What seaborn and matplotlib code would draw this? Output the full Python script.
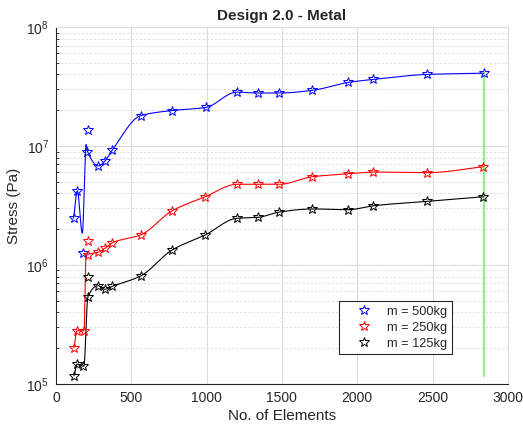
import numpy as np
import pandas as pd
import matplotlib
matplotlib.use("Agg")
import matplotlib.pyplot as plt
import seaborn as sns
from matplotlib.ticker import LogLocator, NullFormatter, MultipleLocator

# Measured stresses: marker points for each load case
blue_mx = [117, 142, 177, 208, 215, 281, 325, 374, 562, 772, 994, 1200, 1343, 1483, 1702, 1941, 2103, 2461, 2840]
blue_my = [2.47e6, 4.2e6, 1.25e6, 8.85e6, 13.6e6, 6.84e6, 7.48e6, 9.25e6, 18.0e6, 19.9e6, 21.1e6,
           28.4e6, 27.9e6, 27.9e6, 29.4e6, 34.3e6, 36.3e6, 40.0e6, 41.0e6]

red_mx = [120, 140, 186, 212, 216, 281, 325, 374, 562, 772, 991, 1200, 1343, 1483, 1702, 1941, 2107, 2466, 2838]
red_my = [2.02e5, 2.8e5, 2.8e5, 1.58e6, 1.21e6, 1.28e6, 1.38e6, 1.54e6, 1.79e6, 2.86e6, 3.75e6,
          4.77e6, 4.77e6, 4.77e6, 5.52e6, 5.85e6, 6.05e6, 5.97e6, 6.70e6]

black_mx = [120, 141, 181, 212, 216, 281, 325, 374, 562, 772, 991, 1200, 1343, 1483, 1702, 1941, 2107, 2466, 2838]
black_my = [1.17e5, 1.47e5, 1.41e5, 7.88e5, 5.4e5, 6.7e5, 6.25e5, 6.62e5, 8.09e5, 1.34e6, 1.79e6,
            2.47e6, 2.52e6, 2.79e6, 2.96e6, 2.92e6, 3.15e6, 3.43e6, 3.75e6]

# Knots of the fitted curves
blue_cx = [117, 142, 175, 200, 212, 281, 325, 374, 562, 772, 994, 1200, 1343, 1483, 1702, 1941, 2103, 2461, 2840]
blue_cy = [2.47e6, 4.2e6, 1.85e6, 10.3e6, 8.85e6, 6.8e6, 7.48e6, 9.25e6, 18.0e6, 19.9e6, 21.1e6,
           28.4e6, 27.9e6, 27.9e6, 29.4e6, 34.3e6, 36.3e6, 40.0e6, 41.0e6]

red_cx = [120, 140, 186, 200, 281, 325, 374, 562, 772, 991, 1200, 1343, 1483, 1702, 1941, 2107, 2466, 2838]
red_cy = [2.02e5, 2.8e5, 2.8e5, 1.2e6, 1.28e6, 1.38e6, 1.54e6, 1.79e6, 2.86e6, 3.75e6,
          4.77e6, 4.77e6, 4.77e6, 5.52e6, 5.85e6, 6.05e6, 5.97e6, 6.70e6]

black_cx = [120, 141, 185, 212, 281, 325, 374, 562, 772, 991, 1200, 1343, 1483, 1702, 1941, 2107, 2466, 2838]
black_cy = [1.17e5, 1.47e5, 1.41e5, 5.4e5, 6.7e5, 6.25e5, 6.62e5, 8.09e5, 1.34e6, 1.79e6,
            2.47e6, 2.52e6, 2.79e6, 2.96e6, 2.92e6, 3.15e6, 3.43e6, 3.75e6]

labels = ["m = 500kg", "m = 250kg", "m = 125kg"]
colors = ["#0000ff", "#ff0000", "#000000"]

title = "Design 2.0 - Metal"
xlabel = "No. of Elements"
ylabel = "Stress (Pa)"


def pchip(x, y, xs):
    """Shape-preserving piecewise cubic Hermite interpolation."""
    x = np.asarray(x, float)
    y = np.asarray(y, float)
    h = np.diff(x)
    d = np.diff(y) / h
    n = len(x)
    m = np.zeros(n)
    for k in range(1, n - 1):
        if d[k - 1] * d[k] <= 0:
            m[k] = 0.0
        else:
            w1 = 2 * h[k] + h[k - 1]
            w2 = h[k] + 2 * h[k - 1]
            m[k] = (w1 + w2) / (w1 / d[k - 1] + w2 / d[k])
    m[0] = d[0]
    m[-1] = d[-1]
    idx = np.clip(np.searchsorted(x, xs) - 1, 0, n - 2)
    t = (xs - x[idx]) / h[idx]
    h00 = 2 * t**3 - 3 * t**2 + 1
    h10 = t**3 - 2 * t**2 + t
    h01 = -2 * t**3 + 3 * t**2
    h11 = t**3 - t**2
    return h00 * y[idx] + h10 * h[idx] * m[idx] + h01 * y[idx + 1] + h11 * h[idx] * m[idx + 1]


frames = []
for lab, cx, cy in zip(labels, [blue_cx, red_cx, black_cx], [blue_cy, red_cy, black_cy]):
    xs = np.linspace(cx[0], cx[-1], 1500)
    ys = 10 ** pchip(cx, np.log10(cy), xs)
    frames.append(pd.DataFrame({"x": xs, "y": ys, "case": lab}))
curves = pd.concat(frames, ignore_index=True)

sns.set_theme(style="white")
plt.rcParams["font.family"] = ["Liberation Sans", "DejaVu Sans"]
plt.rcParams["mathtext.default"] = "regular"

fig = plt.figure(figsize=(5.23, 4.30), dpi=100)
ax = fig.add_axes([0.107, 0.107, 0.864, 0.830])

sns.lineplot(data=curves, x="x", y="y", hue="case", palette=dict(zip(labels, colors)),
             sort=False, estimator=None, linewidth=0.8, legend=False, ax=ax)

handles = []
for lab, col, mx, my in zip(labels, colors, [blue_mx, red_mx, black_mx], [blue_my, red_my, black_my]):
    h, = ax.plot(mx, my, linestyle="none", marker="*", markersize=7.5,
                 markerfacecolor="none", markeredgecolor=col, markeredgewidth=0.7, label=lab)
    handles.append(h)

# vertical span at the finest mesh, from lowest to highest stress
all_y = blue_my + red_my + black_my
ax.plot([blue_mx[-1], blue_mx[-1]], [min(all_y), max(all_y)], color="#90ee90", linewidth=1.6, zorder=1)

ax.set_yscale("log")
ax.set_xlim(0, 3000)
ax.set_ylim(1e5, 1e8)
ax.xaxis.set_major_locator(MultipleLocator(500))
ax.yaxis.set_major_locator(LogLocator(base=10, numticks=10))
ax.yaxis.set_minor_locator(LogLocator(base=10, subs=np.arange(2, 10), numticks=20))
ax.yaxis.set_minor_formatter(NullFormatter())

ax.grid(True, which="major", axis="both", color="#dcdcdc", linewidth=0.8)
ax.grid(True, which="minor", axis="y", color="#dcdcdc", linewidth=0.6, linestyle=(0, (3, 2)))
ax.set_axisbelow(True)

ax.tick_params(axis="both", which="major", direction="in", length=4, width=0.8,
               colors="#262626", labelsize=10, labelcolor="#262626", pad=5)
ax.tick_params(axis="y", which="minor", direction="in", length=2, width=0.6, colors="#262626", left=True)
ax.tick_params(top=False, right=False)

for side in ["left", "bottom"]:
    ax.spines[side].set_color("#262626")
    ax.spines[side].set_linewidth(0.8)
for side in ["top", "right"]:
    ax.spines[side].set_color("#dcdcdc")
    ax.spines[side].set_linewidth(0.8)

ax.set_title(title, fontsize=11, fontweight="bold", pad=5)
ax.set_xlabel(xlabel, fontsize=11, color="#262626", labelpad=3)
ax.set_ylabel(ylabel, fontsize=11, color="#262626", labelpad=4)

leg = ax.legend(handles=handles, labels=labels, loc="lower right", bbox_to_anchor=(0.876, 0.084),
                borderaxespad=0, fontsize=9.2, frameon=True, fancybox=False, edgecolor="#262626",
                framealpha=1, handlelength=3.27, handletextpad=0.16, borderpad=0.35, labelspacing=0.3)
leg.get_frame().set_linewidth(0.8)

fig.savefig("out.png", dpi=100)
